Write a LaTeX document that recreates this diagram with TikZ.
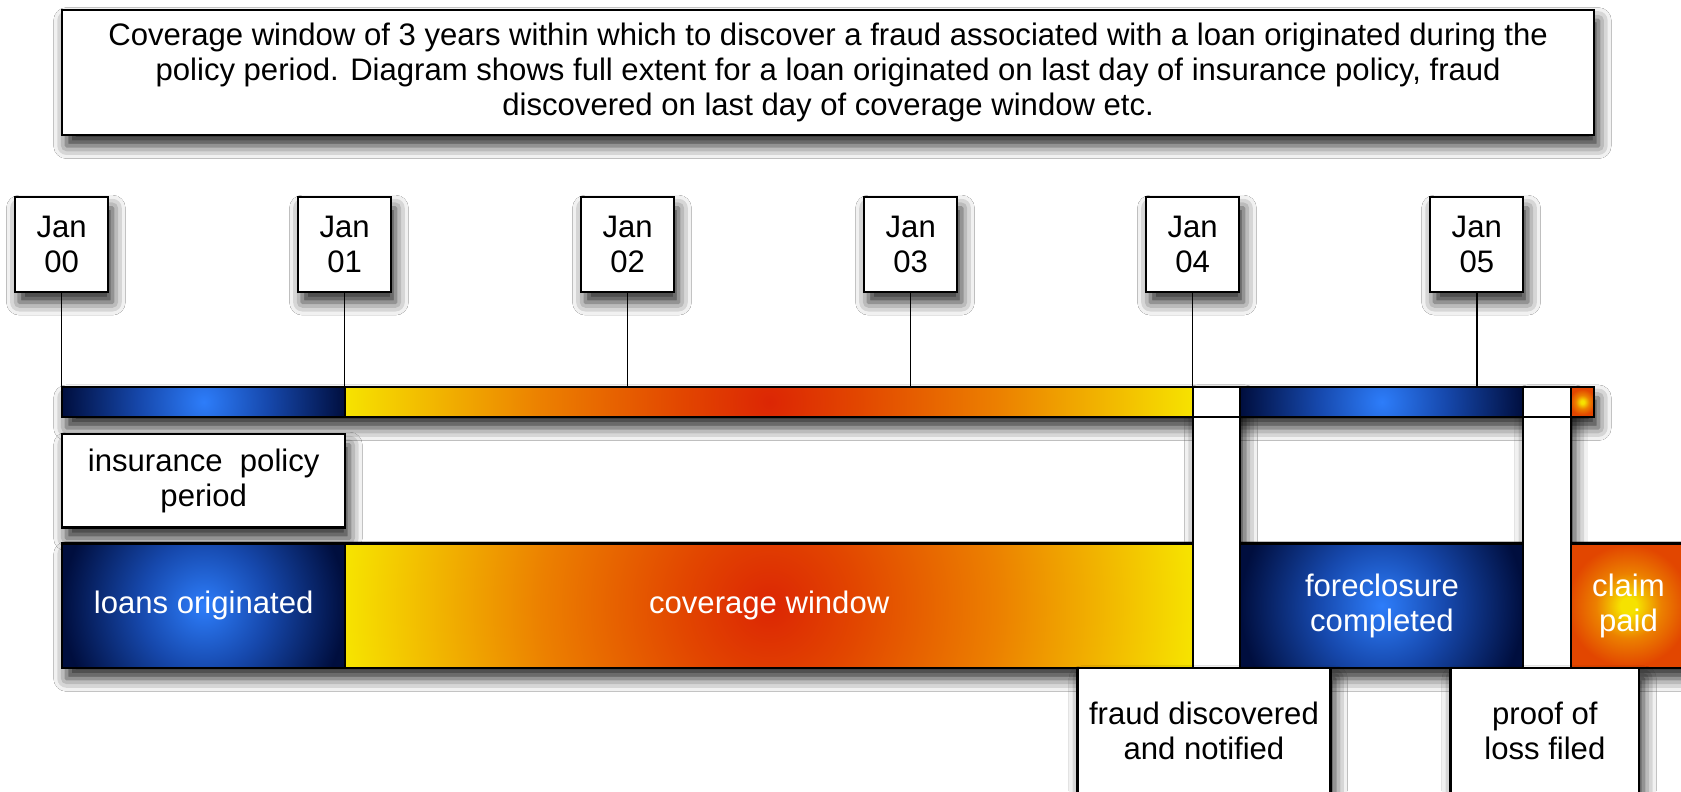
\documentclass[tikz,border=0pt]{standalone}
\usepackage{fontspec}
\setmainfont{Liberation Sans}
\usetikzlibrary{shadows.blur}
\definecolor{navy}{RGB}{0,14,62}
\definecolor{mblue}{RGB}{22,72,172}
\definecolor{bblue}{RGB}{45,125,250}
\definecolor{cyel}{RGB}{246,226,0}
\definecolor{corg}{RGB}{236,128,0}
\definecolor{cred}{RGB}{220,38,4}
\definecolor{credb}{RGB}{226,70,0}
\pgfdeclareradialshading{blueglow}{\pgfpointorigin}{color(0bp)=(bblue); color(10bp)=(mblue); color(22bp)=(navy); color(50bp)=(navy)}
\pgfdeclareradialshading{fireglow}{\pgfpointorigin}{color(0bp)=(cred); color(5bp)=(credb); color(13bp)=(corg); color(24bp)=(cyel); color(50bp)=(cyel)}
\pgfdeclareradialshading{claimglow}{\pgfpointorigin}{color(0bp)=(cyel); color(2bp)=(cyel); color(8bp)=(corg); color(15bp)=(credb); color(50bp)=(credb)}
\tikzset{
  lbl/.style={font=\fontsize{29}{32.5}\selectfont, align=center},
  sz/.style 2 args={minimum width=#1pt, minimum height=#2pt},
  box/.style={rectangle, draw=black, line width=2pt, fill=white, inner sep=0pt, anchor=north west, lbl},
  shad/.style={blur shadow={shadow xshift=4pt, shadow yshift=-10pt, shadow blur radius=12pt, shadow opacity=85}},
  seg/.style={rectangle, draw=black, line width=2pt, inner sep=0pt, anchor=north west, lbl, text=white},
  blueseg/.style={seg, path picture={\shade[shading=blueglow] (path picture bounding box.center) circle (150pt);}},
  fireseg/.style={seg, path picture={\shade[shading=fireglow] (path picture bounding box.center) circle (410pt);}},
  claimseg/.style={seg, path picture={\shade[shading=claimglow] (path picture bounding box.center) circle (#1pt);}},
  whiteseg/.style={rectangle, draw=black, line width=2pt, fill=white, inner sep=0pt, anchor=north west},
  conn/.style={draw=black, line width=1.4pt},
}
\begin{document}
\begin{tikzpicture}[x=1pt, y=-1pt]
\fill[white] (0,0) rectangle (1568,738);
\useasboundingbox (0,0) rectangle (1568,738);

% description box
\node[box, shad, sz={1429}{117}] (desc) at (57,8)
  {Coverage window of 3 years within which to discover a fraud associated with a loan originated during the\\
   policy period. Diagram shows full extent for a loan originated on last day of insurance policy, fraud\\
   discovered on last day of coverage window etc.};

% year boxes
\foreach \i/\x in {0/13,1/277,2/541,3/805,4/1068,5/1333}{
  \node[box, shad, sz={87}{88}] (j\i) at (\x,183) {Jan\\0\i};
}

% backgrounds casting shadows
\node[whiteseg, shad, sz={1429}{28}] (tbar) at (57,360) {};
\node[whiteseg, shad, sz={1515}{116}] (bbar) at (57,506) {};
\node[whiteseg, shad, sz={44}{262}] (col1) at (1112,360) {};
\node[whiteseg, shad, sz={44}{262}] (col2) at (1420,360) {};

% insurance policy period
\node[box, shad, sz={264}{87}] (ins) at (57,404) {insurance\ \ policy\\period};

% thin bar segments
\node[blueseg, sz={264}{28}] (tloan) at (57,360) {};
\node[fireseg, sz={791}{28}] (tcov) at (321,360) {};
\node[whiteseg, sz={44}{28}] (tw1) at (1112,360) {};
\node[blueseg, sz={264}{28}] (tfc) at (1156,360) {};
\node[whiteseg, sz={44}{28}] (tw2) at (1420,360) {};
\node[claimseg=20, sz={22}{28}] (tclaim) at (1464,360) {};

% big bar segments
\node[blueseg, sz={264}{116}] (loans) at (57,506) {loans originated};
\node[fireseg, sz={791}{116}] (cov) at (321,506) {coverage window};
\node[blueseg, sz={264}{116}] (fc) at (1156,506) {foreclosure\\completed};
\node[claimseg=95, sz={108}{116}] (claim) at (1464,506) {claim\\paid};

% bottom boxes
\node[box, shad, sz={236}{118}] (fraud) at (1004,622) {fraud discovered\\and notified};
\node[box, shad, sz={176}{118}] (proof) at (1352,622) {proof of\\loss filed};

% connectors
\foreach \i in {0,...,5}{
  \draw[conn] (j\i.south) -- (j\i.south |- tbar.north);
}
\end{tikzpicture}
\end{document}
